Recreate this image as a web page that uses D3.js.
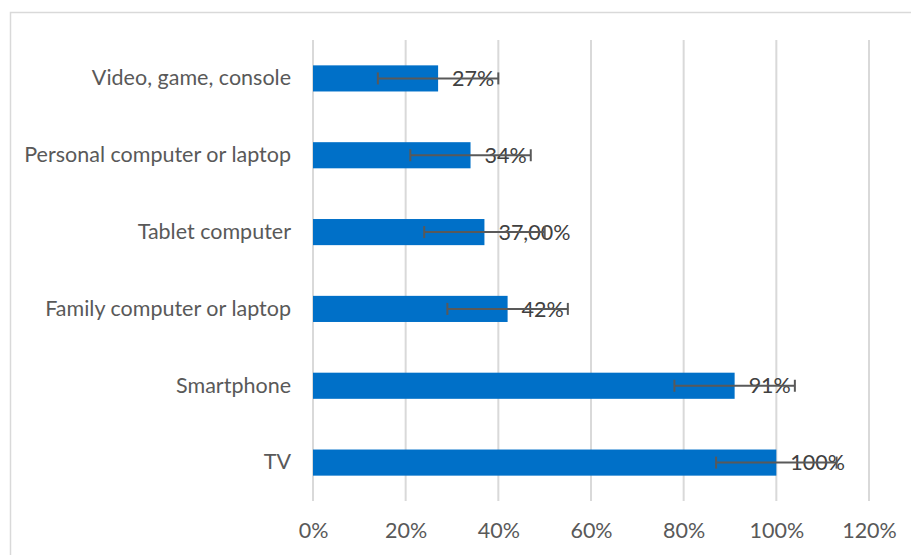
<!DOCTYPE html>
<html>
<head>
<meta charset="utf-8">
<script src="https://cdn.jsdelivr.net/npm/d3@7"></script>
<style>
  body { margin: 0; background: #fff; }
  svg { display: block; }
  text { font-family: Lato, "Open Sans", sans-serif; }
</style>
</head>
<body>
<div id="wrapper"></div>
<script>
// data, top to bottom
const categories = ["Video, game, console", "Personal computer or laptop", "Tablet computer",
    "Family computer or laptop", "Smartphone", "TV"];
const values = [0.27, 0.34, 0.37, 0.42, 0.91, 1.00];
const labels = ["27%", "34%", "37,00%", "42%", "91%", "100%"];
const errors = [0.13, 0.13, 0.13, 0.13, 0.13, 0.13];
const xTicks = [0, 0.2, 0.4, 0.6, 0.8, 1.0, 1.2];

const data = categories.map((c, i) => ({ cat: c, value: values[i], label: labels[i], err: errors[i] }));

const dimension = {
    width: 911,
    height: 555,
    margin: { top: 40, left: 313, bottom: 54, right: 42 }
};
dimension.boundedWidth = dimension.width - dimension.margin.left - dimension.margin.right;
dimension.boundedHeight = dimension.height - dimension.margin.top - dimension.margin.bottom;

const fontSize = 21.5;

const svg = d3.select("#wrapper").append("svg")
    .attr("width", dimension.width)
    .attr("height", dimension.height);

// chart border
svg.append("rect")
    .attr("x", 10.5).attr("y", 12.5)
    .attr("width", 920).attr("height", 560)
    .attr("fill", "none")
    .attr("stroke", "#d9d9d9")
    .attr("stroke-width", 1.5);

const bounded = svg.append("g")
    .attr("transform", `translate(${dimension.margin.left}, ${dimension.margin.top})`);

const xScaler = d3.scaleLinear()
    .domain([0, 1.2])
    .range([0, dimension.boundedWidth]);

const yScaler = d3.scaleBand()
    .domain(categories)
    .range([0, dimension.boundedHeight])
    .paddingInner(0.66)
    .paddingOuter(0.33);

// gridlines
bounded.append("g")
    .selectAll("line")
    .data(xTicks)
    .join("line")
    .attr("x1", d => xScaler(d)).attr("x2", d => xScaler(d))
    .attr("y1", 0).attr("y2", dimension.boundedHeight)
    .attr("stroke", "#d9d9d9")
    .attr("stroke-width", 2);

// x axis labels
const Ax_x = d3.axisBottom(xScaler)
    .tickValues(xTicks)
    .tickFormat(d3.format(".0%"))
    .tickSize(0)
    .tickPadding(22);
const gx = bounded.append("g")
    .attr("transform", `translate(0, ${dimension.boundedHeight})`)
    .call(Ax_x);
gx.select(".domain").remove();
gx.selectAll("text")
    .attr("font-size", fontSize)
    .attr("font-family", "Lato, sans-serif")
    .attr("fill", "#595959");

// y axis labels
const Ax_y = d3.axisLeft(yScaler).tickSize(0).tickPadding(22);
const gy = bounded.append("g").call(Ax_y);
gy.select(".domain").remove();
gy.selectAll("text")
    .attr("font-size", fontSize)
    .attr("font-family", "Lato, sans-serif")
    .attr("fill", "#595959");

// bars
bounded.append("g")
    .selectAll("rect")
    .data(data)
    .join("rect")
    .attr("x", 0)
    .attr("y", d => yScaler(d.cat))
    .attr("width", d => xScaler(d.value))
    .attr("height", yScaler.bandwidth())
    .attr("fill", "#0070c8");

// data labels
bounded.append("g")
    .selectAll("text")
    .data(data)
    .join("text")
    .attr("x", d => xScaler(d.value) + 14)
    .attr("y", d => yScaler(d.cat) + yScaler.bandwidth() / 2)
    .attr("dy", "0.36em")
    .attr("font-size", fontSize)
    .attr("fill", "#404040")
    .text(d => d.label);

// error bars
const errG = bounded.append("g")
    .attr("stroke", "#595959")
    .attr("stroke-width", 2);
const capH = 6;
errG.selectAll(".err")
    .data(data)
    .join("line")
    .attr("x1", d => xScaler(d.value - d.err))
    .attr("x2", d => xScaler(d.value + d.err))
    .attr("y1", d => yScaler(d.cat) + yScaler.bandwidth() / 2)
    .attr("y2", d => yScaler(d.cat) + yScaler.bandwidth() / 2);
errG.selectAll(".capL")
    .data(data)
    .join("line")
    .attr("x1", d => xScaler(d.value - d.err))
    .attr("x2", d => xScaler(d.value - d.err))
    .attr("y1", d => yScaler(d.cat) + yScaler.bandwidth() / 2 - capH)
    .attr("y2", d => yScaler(d.cat) + yScaler.bandwidth() / 2 + capH);
errG.selectAll(".capR")
    .data(data)
    .join("line")
    .attr("x1", d => xScaler(d.value + d.err))
    .attr("x2", d => xScaler(d.value + d.err))
    .attr("y1", d => yScaler(d.cat) + yScaler.bandwidth() / 2 - capH)
    .attr("y2", d => yScaler(d.cat) + yScaler.bandwidth() / 2 + capH);
</script>
</body>
</html>
